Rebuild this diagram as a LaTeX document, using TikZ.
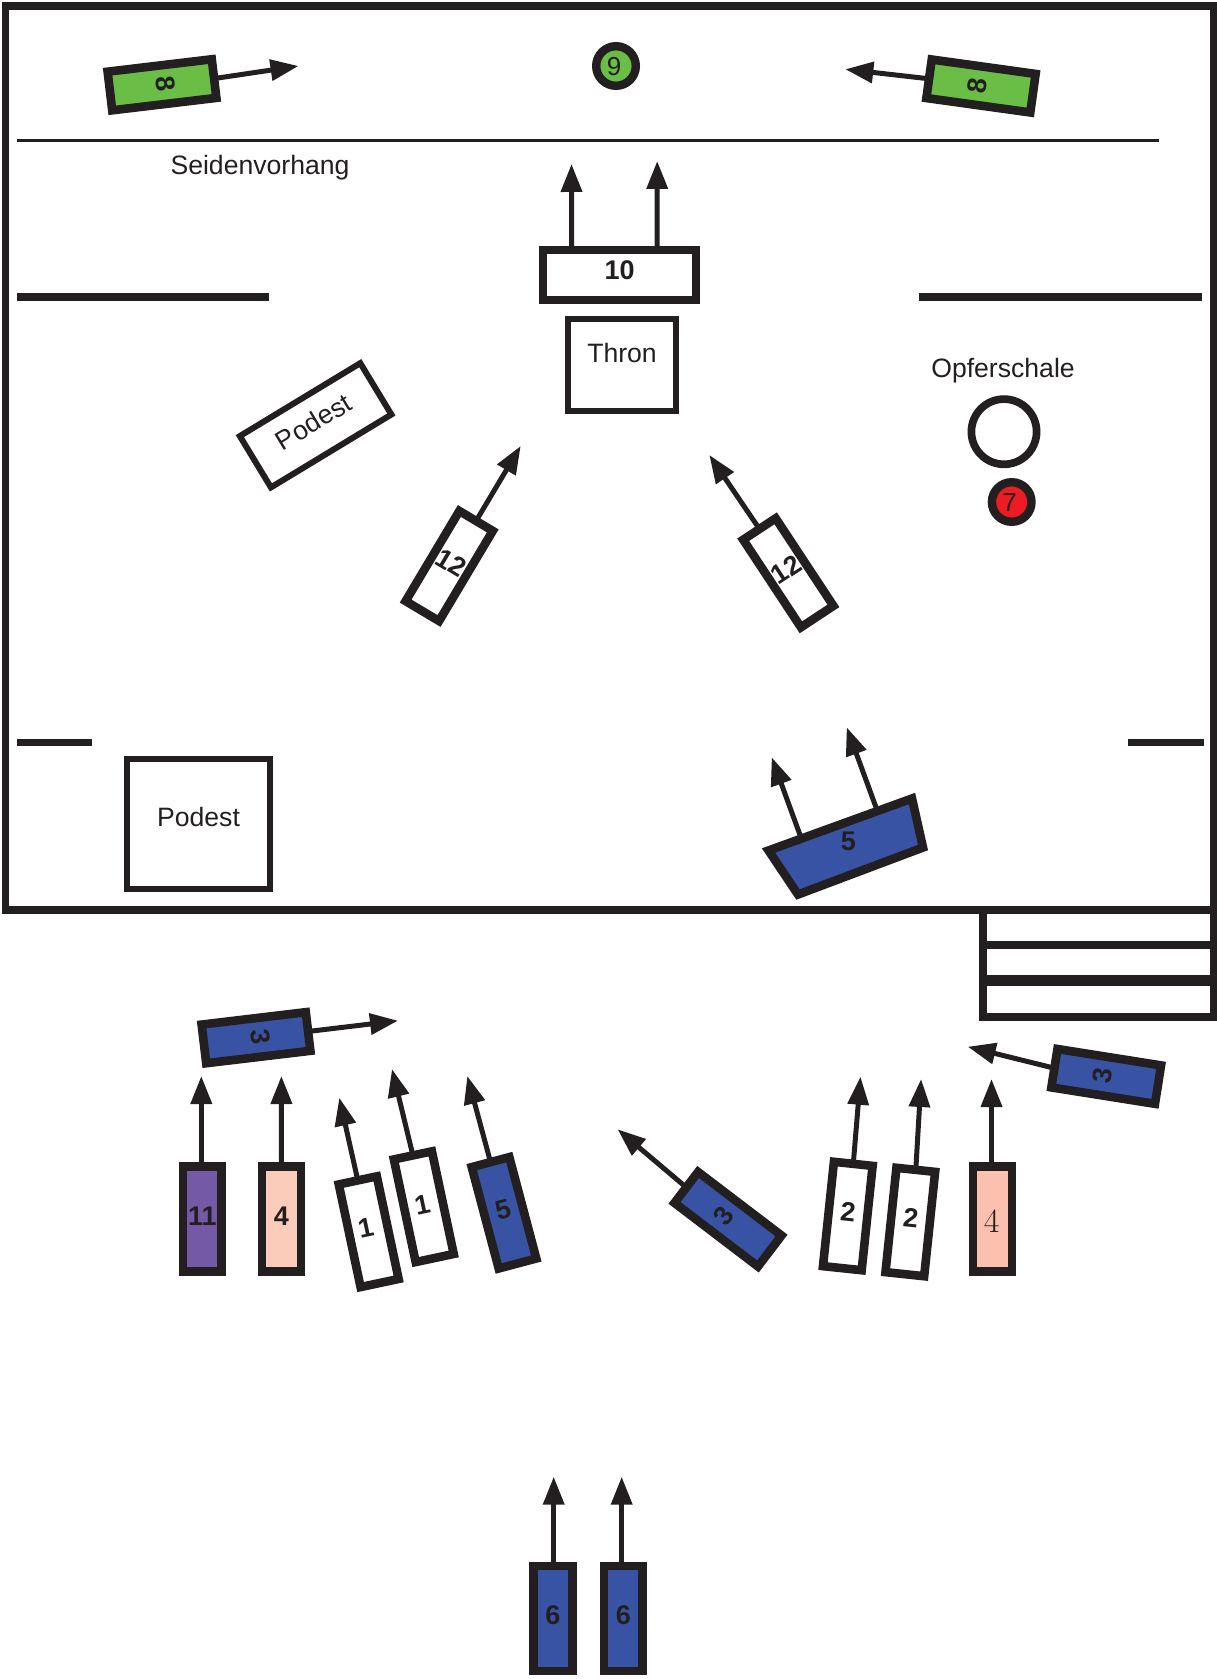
\documentclass[tikz,border=0pt]{standalone}
\usepackage{fontspec}
\setsansfont{Liberation Sans}
\usetikzlibrary{arrows.meta,calc}
\definecolor{ink}{HTML}{231F20}
\definecolor{grn}{HTML}{6ABD45}
\definecolor{blu}{HTML}{3953A4}
\definecolor{pur}{HTML}{7359A6}
\definecolor{rd}{HTML}{ED1C24}
\definecolor{pinka}{HTML}{FBCCBA}
\definecolor{pinkb}{HTML}{FBC0AE}
\newcommand{\lab}[2]{\raisebox{\dimexpr #1-0.36em\relax}[0pt][0pt]{#2}}
\tikzset{
 x=0.5pt,y=-0.5pt,
 bar/.style={draw=ink,line width=4.3pt,inner sep=0pt,outer sep=0pt,minimum width=19.45pt,minimum height=52.45pt,text=ink,font=\sffamily\bfseries\fontsize{13.5}{13.5}\selectfont},
 plain/.style={draw=ink,line width=3pt,inner sep=0pt,outer sep=0pt,fill=white,text=ink,font=\sffamily\fontsize{13.3}{13.3}\selectfont},
 caption/.style={inner sep=0pt,text=ink,font=\sffamily\fontsize{13.3}{13.3}\selectfont},
 spot/.style={circle,draw=ink,line width=4.2pt,inner sep=0pt,outer sep=0pt,minimum size=19.8pt,text=ink,font=\sffamily\fontsize{13}{13}\selectfont},
 go/.style={draw=ink,line width=2.5pt,-{Triangle[length=14pt,width=10.3pt]}},
 wall/.style={draw=ink,line width=4pt},
}
\begin{document}
\begin{tikzpicture}
\useasboundingbox (0,0) rectangle (1216,1679);
% room
\draw[ink,line width=3.85pt] (5.5,5.7) rectangle (1214,910);
\draw[ink,line width=1.35pt] (17,140.3) -- (1158.6,140.3);
\draw[wall] (17,296.7) -- (269,296.7);
\draw[wall] (919,296.7) -- (1201.6,296.7);
\draw[ink,line width=3.6pt] (17,742.5) -- (92,742.5);
\draw[ink,line width=3.6pt] (1128,742.5) -- (1204,742.5);
% steps
\draw[wall] (982.5,910) rectangle (1214,1017);
\draw[wall] (982.5,944.7) -- (1214,944.7);
\draw[ink,line width=5.3pt] (982.5,980.7) -- (1214,980.7);
% free arrow ends
\coordinate (t8a) at (298.5,66);
\coordinate (t8b) at (845.3,69.3);
\coordinate (t10a) at (571.5,164);
\coordinate (t10b) at (657.2,161);
\coordinate (t12a) at (520.7,446);
\coordinate (t12b) at (709.3,455);
\coordinate (t5a) at (771.7,757.3);
\coordinate (t5b) at (846.7,727.3);
\coordinate (s5a) at (800,835);
\coordinate (s5b) at (876,807.3);
\coordinate (t3a) at (398,1020.7);
\coordinate (t3b) at (967.7,1046.7);
\coordinate (t3c) at (617.6,1129.3);
\coordinate (t11) at (201.3,1076);
\coordinate (t4a) at (281.4,1076);
\coordinate (t1a) at (339.3,1097.7);
\coordinate (t1b) at (392,1069);
\coordinate (t5c) at (467.3,1076);
\coordinate (t2a) at (860.5,1076.7);
\coordinate (t2b) at (921.1,1079);
\coordinate (t4b) at (991.5,1079);
\coordinate (t6a) at (553.7,1476.7);
\coordinate (t6b) at (621.7,1476.7);
% upper room
\node[bar,fill=grn,rotate=-83.2] (g8a) at (162,84.8) {\lab{2.1pt}{8}};
\node[bar,fill=grn,rotate=82.1] (g8b) at (981,86) {\lab{2pt}{8}};
\node[spot,fill=grn] (n9) at (616,66) {\lab{0pt}{\kern-2pt 9}};
\node[caption] (curtain) at (260,167.3) {Seidenvorhang};
\node[bar,fill=white,minimum width=76.5pt,minimum height=25pt] (n10) at (619.6,275) {\lab{2.5pt}{10}};
\node[plain,minimum width=53.7pt,minimum height=46.2pt] (thron) at (622,364.8) {\lab{5.9pt}{Thron}};
\node[plain,rotate=31.2,minimum width=70.4pt,minimum height=30pt] (pod1) at (315.6,425.3) {\lab{2.1pt}{Podest}};
\node[plain,minimum width=71.6pt,minimum height=65pt] (pod2) at (198.5,824.3) {\lab{3.5pt}{Podest}};
\node[caption] (opf) at (1003,371) {Opferschale};
\node[circle,draw=ink,line width=3.85pt,fill=white,inner sep=0pt,minimum size=32.6pt] (bowl) at (1004,431.7) {};
\node[spot,fill=rd] (n7) at (1011.7,502) {\lab{0pt}{\kern-2pt 7}};
\node[bar,fill=white,rotate=-30.8] (b12a) at (449.2,566) {\lab{2pt}{12}};
\node[bar,fill=white,rotate=33.4] (b12b) at (788.3,572.8) {\lab{2pt}{12}};
\draw[ink,line width=4.3pt,fill=blu,line join=miter] (912,798.5) -- (923,847.5) -- (798,894.5) -- (768.5,850.5) -- cycle;
\node[inner sep=0pt,text=ink,font=\sffamily\bfseries\fontsize{13.5}{13.5}\selectfont] (n5) at (848.3,841.7) {5};
% lower groups
\node[bar,fill=blu,rotate=-83.2] (b3a) at (256,1037.7) {\lab{2.5pt}{3}};
\node[bar,fill=blu,rotate=81] (b3b) at (1106.2,1076.4) {\lab{2pt}{3}};
\node[bar,fill=blu,rotate=52.7] (b3c) at (728,1219.2) {\lab{3pt}{3}};
\node[bar,fill=pur] (b11) at (202.3,1219) {\lab{1.7pt}{11}};
\node[bar,fill=pinka] (b4a) at (281.5,1219) {\lab{1.7pt}{4}};
\node[bar,fill=white,rotate=12] (b1a) at (368.7,1231.7) {\lab{2.5pt}{\kern-2pt 1}};
\node[bar,fill=white,rotate=12] (b1b) at (423.8,1206.7) {\lab{1.5pt}{\kern-1pt 1}};
\node[bar,fill=blu,rotate=14.9] (b5) at (504,1212.8) {\lab{1.7pt}{5}};
\node[bar,fill=white,rotate=-6] (b2a) at (847.8,1216) {\lab{2pt}{2}};
\node[bar,fill=white,rotate=-6] (b2b) at (910.3,1222) {\lab{2pt}{2}};
\node[bar,fill=pinkb,font=\rmfamily\fontsize{17}{17}\selectfont] (b4b) at (992.6,1219) {\lab{-0.5pt}{\kern-1pt 4}};
\node[bar,fill=blu] (b6a) at (552.8,1618.5) {\lab{2pt}{6}};
\node[bar,fill=blu] (b6b) at (623.3,1618.5) {\lab{2pt}{6}};
% connectors
\draw[go] (g8a.north) -- (t8a);
\draw[go] (g8b.north) -- (t8b);
\draw[go] ($(n10.north west)!0.186!(n10.north east)$) -- (t10a);
\draw[go] ($(n10.north west)!0.746!(n10.north east)$) -- (t10b);
\draw[go] (b12a.north) -- (t12a);
\draw[go] (b12b.north) -- (t12b);
\draw[go] (s5a) -- (t5a);
\draw[go] (s5b) -- (t5b);
\draw[go] (b3a.north) -- (t3a);
\draw[go] (b3b.north) -- (t3b);
\draw[go] (b3c.north) -- (t3c);
\draw[go] ($(b11.north)+(-1,0)$) -- (t11);
\draw[go] (b4a.north) -- (t4a);
\draw[go] (b1a.north) -- (t1a);
\draw[go] (b1b.north) -- (t1b);
\draw[go] (b5.north) -- (t5c);
\draw[go] (b2a.north) -- (t2a);
\draw[go] (b2b.north) -- (t2b);
\draw[go] ($(b4b.north)+(-1.1,0)$) -- (t4b);
\draw[go] ($(b6a.north)+(0.9,0)$) -- (t6a);
\draw[go] ($(b6b.north)+(-1.6,0)$) -- (t6b);
\end{tikzpicture}
\end{document}
